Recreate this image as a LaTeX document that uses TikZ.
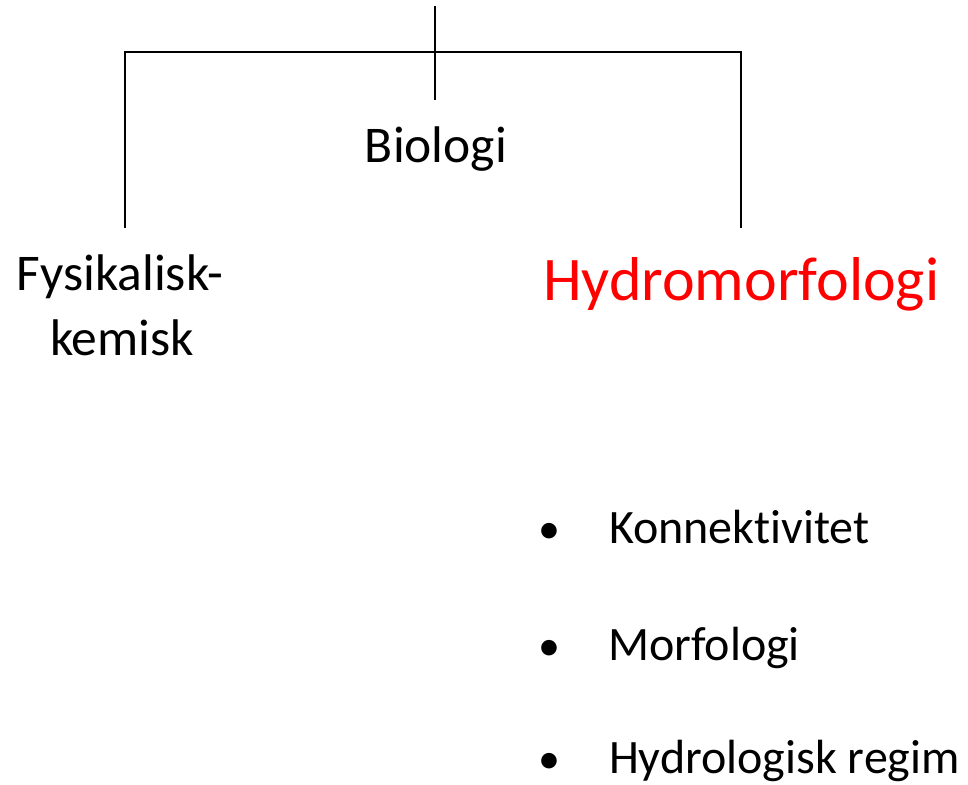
\documentclass[tikz,border=0pt]{standalone}
\usepackage{fontspec}
\setmainfont{Carlito}[RawFeature=-liga]
\begin{document}
\begin{tikzpicture}[x=1pt,y=-1pt,
  conn/.style={line width=2pt,black},
  lbl/.style={inner sep=0pt,outer sep=0pt,anchor=base},
  big/.style={lbl,font=\fontsize{51.5}{62}\selectfont},
  head/.style={lbl,anchor=base west,font=\fontsize{62}{74}\selectfont,text=red},
  item/.style={lbl,anchor=base west,font=\fontsize{48}{58}\selectfont},
  dot/.style={lbl,font=\fontsize{44}{56}\selectfont}]
\useasboundingbox (0,0) rectangle (968,784);
\coordinate (top) at (435,6);
\coordinate (stem) at (435,100);
\coordinate (lt) at (125,52);
\coordinate (rt) at (741,52);
\coordinate (lb) at (125,228);
\coordinate (rb) at (741,228);
\draw[conn] (top) -- (stem);
\draw[conn] (lb) -- (lt) -- (rt) -- (rb);
\node[big] (bio) at (436,162) {Biologi};
\node[big] (fys1) at (120,290) {Fysikalisk-};
\node[big] (fys2) at (122,355) {kemisk};
\node[head] (hyd) at (543,300) {Hydromorfologi};
\node[dot] (b1) at (549,543) {•};
\node[dot] (b2) at (549,660) {•};
\node[dot] (b3) at (549,773) {•};
\node[item] (i1) at (609,543) {Konnektivitet};
\node[item] (i2) at (608,660) {Morfologi};
\node[item] (i3) at (609,773) {Hydrologisk regim};
\end{tikzpicture}
\end{document}
